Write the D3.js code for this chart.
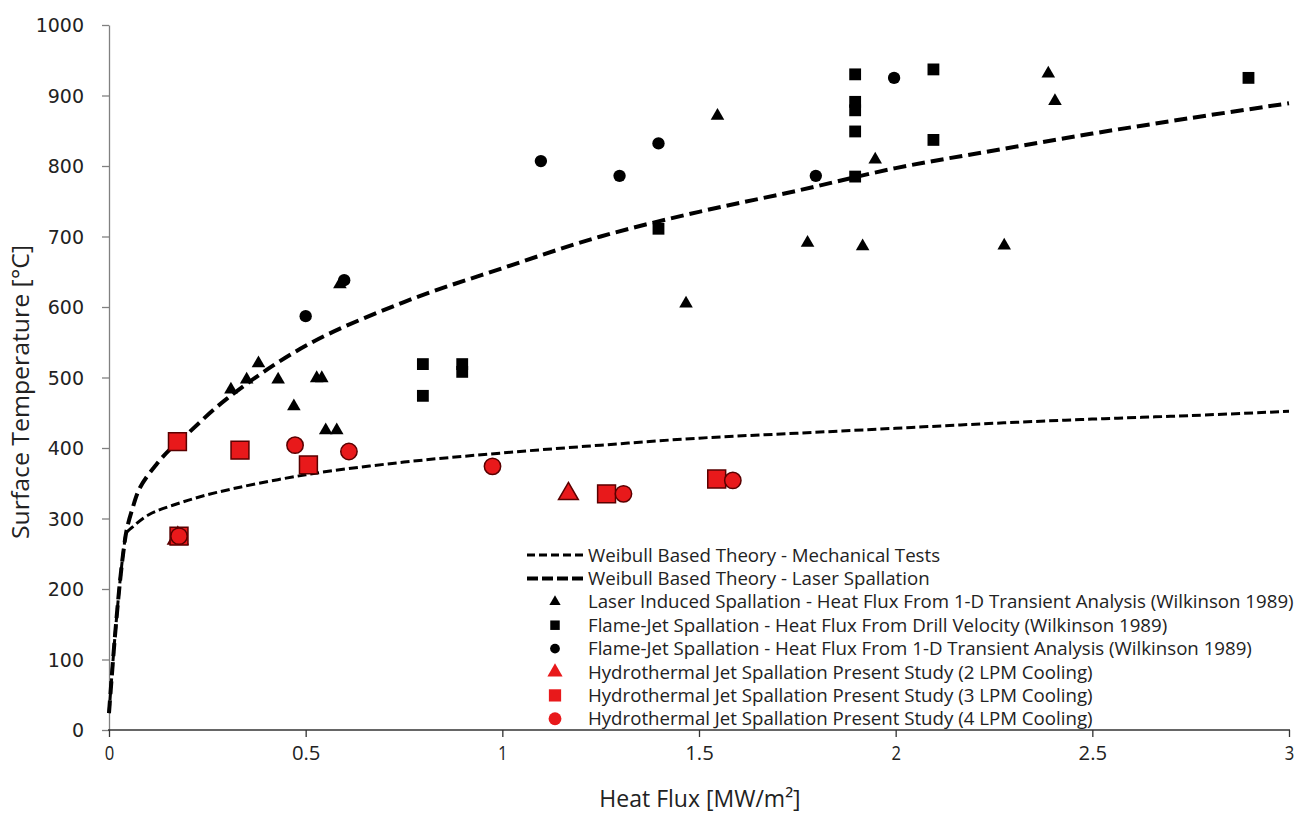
<!DOCTYPE html>
<html lang="en">
<head>
<meta charset="UTF-8">
<title>Spallation Surface Temperature</title>
<style>
  body { margin: 0; background: #fff; }
  svg text { fill: #222; }
  .ytick text { font-family: "DejaVu Sans", sans-serif; font-size: 19px; }
  .xtick text { font-family: "Open Sans", "Liberation Sans", sans-serif; font-size: 20px; }
  .title { font-family: "Open Sans", "Liberation Sans", sans-serif; font-size: 23px; }
  .legend text { font-family: "Open Sans", "Liberation Sans", sans-serif; font-size: 18.5px; }
</style>
<script src="https://d3js.org/d3.v7.min.js"></script>
</head>
<body>
<svg id="chart" width="1297" height="813"></svg>
<script>
// theory curves
const laserX = [0, 0.015, 0.028, 0.038, 0.045, 0.058, 0.079, 0.121, 0.155, 0.18, 0.3, 0.5, 0.75, 1, 1.25, 1.5, 1.75, 2, 2.25, 2.5, 2.75, 3];
const laserY = [24, 132, 211, 259, 284, 311, 344, 377, 398, 410, 470, 545, 607, 655, 700, 735, 765, 797, 822, 846, 868, 889];
const mechX = [0, 0.015, 0.028, 0.038, 0.045, 0.058, 0.1, 0.18, 0.274, 0.5, 0.75, 1, 1.25, 1.5, 1.75, 2, 2.25, 2.5, 2.75, 3];
const mechY = [24, 132, 211, 259, 280, 287, 305, 322, 337, 362, 380, 393, 404, 414, 421, 428, 435, 441, 446, 452];

// Wilkinson 1989 data
const laserPtsX = [0.31, 0.35, 0.38, 0.43, 0.47, 0.528, 0.541, 0.551, 0.579, 0.587, 1.467, 1.547, 1.776, 1.916, 1.948, 2.276, 2.388, 2.405];
const laserPtsY = [483, 497, 520, 497, 459, 499, 499, 425, 425, 632, 605, 871, 691, 686, 809, 687, 931, 892];
const drillX = [0.798, 0.798, 0.898, 0.898, 1.397, 1.897, 1.897, 1.897, 1.897, 1.897, 2.096, 2.096, 2.897];
const drillY = [519, 474, 519, 508, 711, 930, 891, 879, 849, 785, 937, 837, 925];
const transX = [0.50, 0.598, 1.098, 1.298, 1.397, 1.797, 1.996];
const transY = [587, 638, 807, 786, 832, 786, 925];

// present study
const lpm2X = [0.175, 1.168];
const lpm2Y = [272, 335];
const lpm3X = [0.174, 0.333, 0.507, 0.178, 1.265, 1.545];
const lpm3Y = [409, 397, 376, 275, 335, 356];
const lpm4X = [0.178, 0.473, 0.610, 0.975, 1.308, 1.586];
const lpm4Y = [275, 404, 395, 374, 335, 354];

const xTicks = [0, 0.5, 1, 1.5, 2, 2.5, 3];
const yTicks = [0, 100, 200, 300, 400, 500, 600, 700, 800, 900, 1000];

const legendLabels = [
  "Weibull Based Theory - Mechanical Tests",
  "Weibull Based Theory - Laser Spallation",
  "Laser Induced Spallation - Heat Flux From 1-D Transient Analysis (Wilkinson 1989)",
  "Flame-Jet Spallation - Heat Flux From Drill Velocity (Wilkinson 1989)",
  "Flame-Jet Spallation - Heat Flux From 1-D Transient Analysis (Wilkinson 1989)",
  "Hydrothermal Jet Spallation Present Study (2 LPM Cooling)",
  "Hydrothermal Jet Spallation Present Study (3 LPM Cooling)",
  "Hydrothermal Jet Spallation Present Study (4 LPM Cooling)"
];

const red = "#e8191b", redEdge = "#5a0000";

const svg = d3.select("#chart");
const x = d3.scaleLinear().domain([0, 3]).range([109, 1289]);
const y = d3.scaleLinear().domain([0, 1000]).range([730, 25]);

// axes
const yAxis = svg.append("g").attr("class", "ytick")
  .attr("transform", "translate(109,0)")
  .call(d3.axisLeft(y).tickValues(yTicks).tickFormat(d3.format("d")).tickSize(7).tickPadding(18).tickSizeOuter(0));
yAxis.selectAll("line, path").attr("stroke", "#808080").attr("stroke-width", 1.3);
yAxis.selectAll("text").attr("dy", "0.36em");

const xAxis = svg.append("g").attr("class", "xtick")
  .attr("transform", "translate(0,730)")
  .call(d3.axisBottom(x).tickValues(xTicks).tickFormat(d3.format("")).tickSize(7).tickPadding(9).tickSizeOuter(0));
xAxis.selectAll("line, path").attr("stroke", "#333").attr("stroke-width", 1.3);
xAxis.select(".domain").attr("d", "M108,0H1290");
xAxis.selectAll("text").attr("textLength", d => String(d).length * 9.5).attr("lengthAdjust", "spacingAndGlyphs");

// titles
svg.append("text").attr("class", "title")
  .attr("transform", "translate(29,392) rotate(-90)")
  .attr("text-anchor", "middle")
  .attr("textLength", 294).attr("lengthAdjust", "spacingAndGlyphs")
  .text("Surface Temperature [°C]");

svg.append("text").attr("class", "title")
  .attr("x", 700).attr("y", 807).attr("text-anchor", "middle")
  .text("Heat Flux [MW/m²]");

// curves
const line = d3.line().curve(d3.curveCatmullRom.alpha(0.5));
svg.append("path")
  .attr("d", line(mechX.map((d, i) => [x(d), y(mechY[i])])))
  .attr("fill", "none").attr("stroke", "#000").attr("stroke-width", 3)
  .attr("stroke-dasharray", "9 4");
svg.append("path")
  .attr("d", line(laserX.map((d, i) => [x(d), y(laserY[i])])))
  .attr("fill", "none").attr("stroke", "#000").attr("stroke-width", 4)
  .attr("stroke-dasharray", "13 6");

// markers
function drawPts(xs, ys, type, size, fill, edge) {
  const sym = d3.symbol().type(type).size(size);
  svg.append("g").selectAll("path")
    .data(xs.map((d, i) => [d, ys[i]]))
    .join("path")
    .attr("d", sym)
    .attr("transform", d => `translate(${x(d[0])},${y(d[1])})`)
    .attr("fill", fill)
    .attr("stroke", edge || "none")
    .attr("stroke-width", edge ? 1.5 : 0);
}
drawPts(laserPtsX, laserPtsY, d3.symbolTriangle, 80, "#000");
drawPts(drillX, drillY, d3.symbolSquare, 140, "#000");
drawPts(transX, transY, d3.symbolCircle, 120, "#000");
drawPts(lpm2X, lpm2Y, d3.symbolTriangle, 170, red, redEdge);
drawPts(lpm3X, lpm3Y, d3.symbolSquare, 320, red, redEdge);
drawPts(lpm4X, lpm4Y, d3.symbolCircle, 210, red, redEdge);

// legend
const leg = svg.append("g").attr("class", "legend");
const rowY = i => 555 + i * 23.4;
const legendMarks = [
  null, null,
  [d3.symbolTriangle, 55, "#000"],
  [d3.symbolSquare, 90, "#000"],
  [d3.symbolCircle, 75, "#000"],
  [d3.symbolTriangle, 100, red],
  [d3.symbolSquare, 150, red],
  [d3.symbolCircle, 130, red]
];
leg.append("line").attr("x1", 527).attr("x2", 584).attr("y1", rowY(0)).attr("y2", rowY(0))
  .attr("stroke", "#000").attr("stroke-width", 3).attr("stroke-dasharray", "8 4");
leg.append("line").attr("x1", 527).attr("x2", 584).attr("y1", rowY(1)).attr("y2", rowY(1))
  .attr("stroke", "#000").attr("stroke-width", 4).attr("stroke-dasharray", "11 4");
legendMarks.forEach((m, i) => {
  if (!m) return;
  leg.append("path")
    .attr("d", d3.symbol().type(m[0]).size(m[1]))
    .attr("transform", `translate(555,${rowY(i)})`)
    .attr("fill", m[2]);
});
const texts = leg.selectAll("text").data(legendLabels).join("text")
  .attr("dy", "0.36em")
  .text(d => d);
// fit legend text width to the original's narrow face
const longest = d3.max(texts.nodes(), n => n.getComputedTextLength());
const k = 706 / longest;
texts.attr("transform", (d, i) => `translate(588,${rowY(i)}) scale(${k},1)`);
</script>
</body>
</html>
